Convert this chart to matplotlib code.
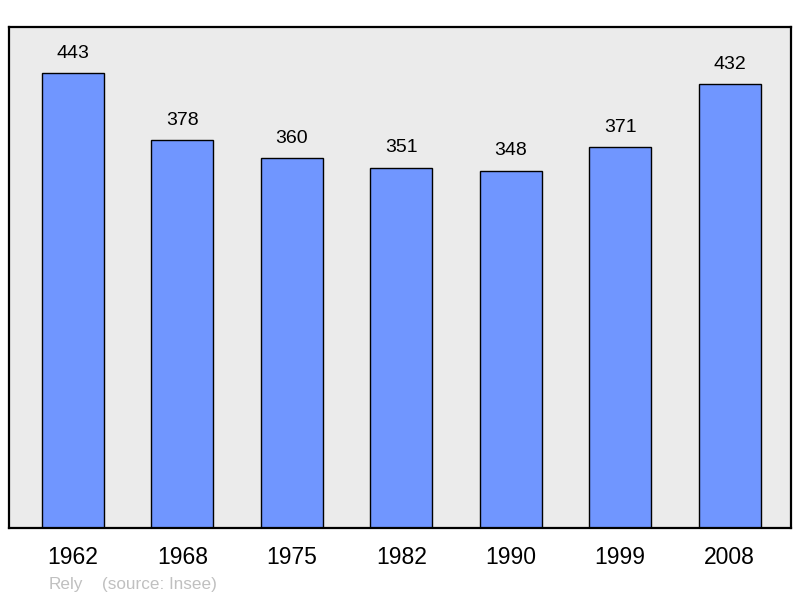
import matplotlib
matplotlib.use("Agg")
import matplotlib.pyplot as plt

years = ["1962", "1968", "1975", "1982", "1990", "1999", "2008"]
population = [443, 378, 360, 351, 348, 371, 432]
commune = "Rely"
source = "(source: Insee)"

plt.rcParams['font.family'] = ['Liberation Sans', 'DejaVu Sans']

fig = plt.figure(figsize=(8, 5.98), dpi=100)
ax = fig.add_axes([9 / 800, 1 - 528 / 598, 782 / 800, 501 / 598])
ax.set_facecolor('#ebebeb')

x = list(range(len(years)))
ax.bar(x, population, width=0.566, color='#7096ff', edgecolor='black', linewidth=1.0)

for xi, v in zip(x, population):
    ax.annotate(str(v), (xi, v), xytext=(0, 11), textcoords='offset points',
                ha='center', va='baseline', fontsize=14)

ax.set_xlim(-0.584, 6.56)
ax.set_ylim(0, 488)
ax.set_xticks([])
ax.set_yticks([])
for s in ax.spines.values():
    s.set_linewidth(1.6)
    s.set_color('black')

# year labels under the frame
for xi, yr in zip(x, years):
    xf = ax.transData.transform((xi, 0))[0] / fig.dpi / fig.get_figwidth()
    fig.text(xf, 1 - 564 / 598, yr, ha='center', va='baseline', fontsize=16.5)

fig.text(49 / 800, 1 - 589 / 598, commune, ha='left', va='baseline', fontsize=12.3, color='#c0c0c0')
fig.text(102 / 800, 1 - 589 / 598, source, ha='left', va='baseline', fontsize=12.3, color='#c0c0c0')

fig.savefig('out.png', dpi=100)
